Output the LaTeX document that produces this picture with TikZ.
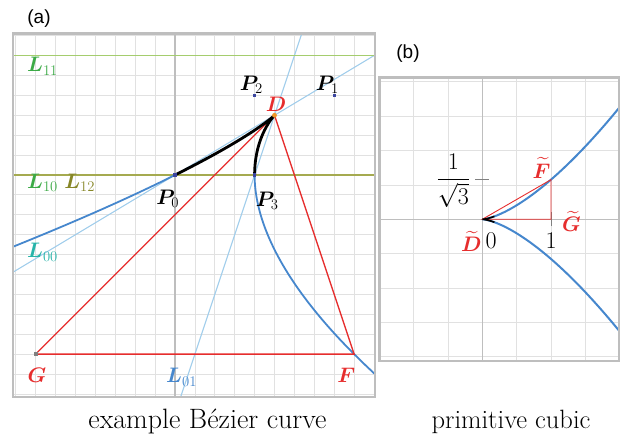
\RequirePackage{fix-cm}
\documentclass[tikz,border=0pt]{standalone}
\usepackage{xcolor}
\usepackage{amsmath,amsfonts,amssymb}
\usepackage{bm}
\usepackage{fontspec}
\setsansfont{Liberation Sans}
\usepackage{tikz}
\usetikzlibrary{calc,positioning}
\definecolor{curveblue}{RGB}{70,135,205}
\definecolor{tanblue}{RGB}{160,205,235}
\definecolor{lgreen}{RGB}{165,205,110}
\definecolor{labgreen}{RGB}{60,170,70}
\definecolor{oliveline}{RGB}{165,170,80}
\definecolor{labolive}{RGB}{135,135,40}
\definecolor{labteal}{RGB}{40,180,170}
\definecolor{myred}{RGB}{230,45,45}
\definecolor{ptblue}{RGB}{60,70,160}
\definecolor{dorange}{RGB}{240,150,40}
\definecolor{gridgray}{RGB}{225,225,225}
\definecolor{axisgray}{RGB}{190,190,190}

\begin{document}
\begin{tikzpicture}[x=1pt,y=1pt,
  lab/.style={font=\fontsize{21}{24}\selectfont,inner sep=0pt,anchor=base west},
  num/.style={font=\fontsize{24}{28}\selectfont,inner sep=0pt},
  captext/.style={inner sep=0pt,anchor=base},
  paneltag/.style={font=\sffamily\fontsize{19}{22}\selectfont,inner sep=0pt},
  gridline/.style={gridgray,line width=0.8pt},
  axisline/.style={axisgray,line width=1.3pt},
  frameline/.style={axisgray,line width=2.6pt}]
\useasboundingbox (0,0) rectangle (620,439);

% (a) example curve, grid unit 19.9pt
\begin{scope}[shift={(175,264)},x=19.9pt,y=19.9pt]
\coordinate (P0) at (0,0);
\coordinate (P1) at (8,4);
\coordinate (P2) at (4,4);
\coordinate (P3) at (4,0);
\coordinate (D) at (5,3);
\coordinate (G) at (-7,-9);
\coordinate (F) at (9,-9);
\begin{scope}
\clip (-8.15,-11.15) rectangle (10.05,7.1);
\draw[gridline,step=1] (-9,-12) grid (11,8);
\draw[axisline] (0,-12) -- (0,8);
\draw[tanblue,line width=1.1pt] ($(P0)!-2!(D)$) -- ($(P0)!2.2!(D)$);
\draw[tanblue,line width=1.1pt] ($(P3)!-4!(D)$) -- ($(P3)!2.7!(D)$);
\draw[lgreen,line width=1.8pt] (-9,6) -- (11,6);
\draw[oliveline,line width=2pt] (-9,0) -- (11,0);
\draw[curveblue,line width=1.8pt] plot[domain=-0.3:0,samples=40,variable=\t]
  ({24*(1-(\t))*(1-(\t))*(\t)+12*(1-(\t))*(\t)*(\t)+4*(\t)*(\t)*(\t)},{12*(\t)*(1-(\t))});
\draw[curveblue,line width=1.8pt] plot[domain=1:1.6,samples=60,variable=\t]
  ({24*(1-(\t))*(1-(\t))*(\t)+12*(1-(\t))*(\t)*(\t)+4*(\t)*(\t)*(\t)},{12*(\t)*(1-(\t))});
\draw[myred,line width=1.3pt] (D) -- (G) -- (F) -- cycle;
\draw[black,line width=2.8pt] (P0) .. controls (P1) and (P2) .. (P3);
\end{scope}
\draw[frameline] (-8.15,-11.15) rectangle (10.05,7.1);
\foreach \p in {P0,P1,P2,P3}
  \fill[ptblue] (\p) +(-1.7pt,-1.7pt) rectangle +(1.7pt,1.7pt);
\fill[gray] (G) +(-1.8pt,-1.8pt) rectangle +(1.8pt,1.8pt);
\fill[dorange] (D) circle[radius=2.4pt];
\node[lab,text=labgreen] (l11) at (-7.44,5.18) {$\bm{L}_{11}$};
\node[lab,text=labgreen] (l10) at (-7.44,-0.67) {$\bm{L}_{10}$};
\node[lab,text=labolive,right=6pt of l10] (l12) {$\bm{L}_{12}$};
\node[lab,text=labteal] (l00) at (-7.44,-4.17) {$\bm{L}_{00}$};
\node[lab,text=curveblue] (l01) at (-0.45,-10.45) {$\bm{L}_{01}$};
\node[lab] (p0lab) at (-0.95,-1.5) {$\bm{P}_{0}$};
\node[lab] (p3lab) at (4.05,-1.59) {$\bm{P}_{3}$};
\node[lab] (p2lab) at (3.25,4.24) {$\bm{P}_{2}$};
\node[lab] (p1lab) at (7.07,4.24) {$\bm{P}_{1}$};
\node[lab,text=myred] (dlab) at (4.55,3.18) {$\bm{D}$};
\node[lab,text=myred] (glab) at (-7.42,-10.44) {$\bm{G}$};
\node[lab,text=myred] (flab) at (8.15,-10.45) {$\bm{F}$};
\end{scope}

% (b) primitive cubic, unit = two cells
\begin{scope}[shift={(482.3,219.7)},x=68.7pt,y=68.7pt]
\coordinate (Dt) at (0,0);
\coordinate (Ft) at (1,{1/sqrt(3)});
\coordinate (Gt) at (1,0);
\begin{scope}
\clip (-1.5,-2.06) rectangle (2.0,2.06);
\draw[gridline,step=0.5] (-2,-2.5) grid (2.5,2.5);
\draw[axisline] (0,-2.5) -- (0,2.5);
\draw[axisline] (-2,0) -- (2.5,0);
\draw[gray,line width=0.8pt] (-0.1,{1/sqrt(3)}) -- (0.1,{1/sqrt(3)});
\draw[gray,line width=0.8pt] (1,-0.1) -- (1,0.1);
\draw[curveblue,line width=2pt] plot[domain=-1.45:1.45,samples=80,variable=\s]
  ({(\s)*(\s)},{(\s)*(\s)*(\s)/sqrt(3)});
\draw[myred,line width=0.9pt] (Dt) -- (Ft) -- (Gt) -- cycle;
\draw[black,line width=1.6pt] plot[domain=-0.42:0.42,samples=30,variable=\s]
  ({(\s)*(\s)},{(\s)*(\s)*(\s)/sqrt(3)});
\end{scope}
\draw[frameline] (-1.5,-2.06) rectangle (2.0,2.06);
\node[lab,text=myred] (ftlab) at (0.73,0.6) {$\widetilde{\bm{F}}$};
\node[lab,text=myred] (gtlab) at (1.16,-0.18) {$\widetilde{\bm{G}}$};
\node[lab,text=myred] (dtlab) at (-0.31,-0.47) {$\widetilde{\bm{D}}$};
\node[num,anchor=base] (zero) at (0.13,-0.42) {$0$};
\node[num,anchor=base] (one) at (1,-0.42) {$1$};
\node[num] (frac) at (-0.42,0.56) {$\dfrac{1}{\sqrt{3}}$};
\end{scope}

\node[paneltag] (taga) at (39,420) {(a)};
\node[paneltag] (tagb) at (408,385) {(b)};
\node[captext,font=\fontsize{28}{32}\selectfont] (capa) at (207.5,11) {example Bézier curve};
\node[captext,font=\fontsize{26.5}{30}\selectfont] (capb) at (511,11) {primitive cubic};
\end{tikzpicture}
\end{document}
